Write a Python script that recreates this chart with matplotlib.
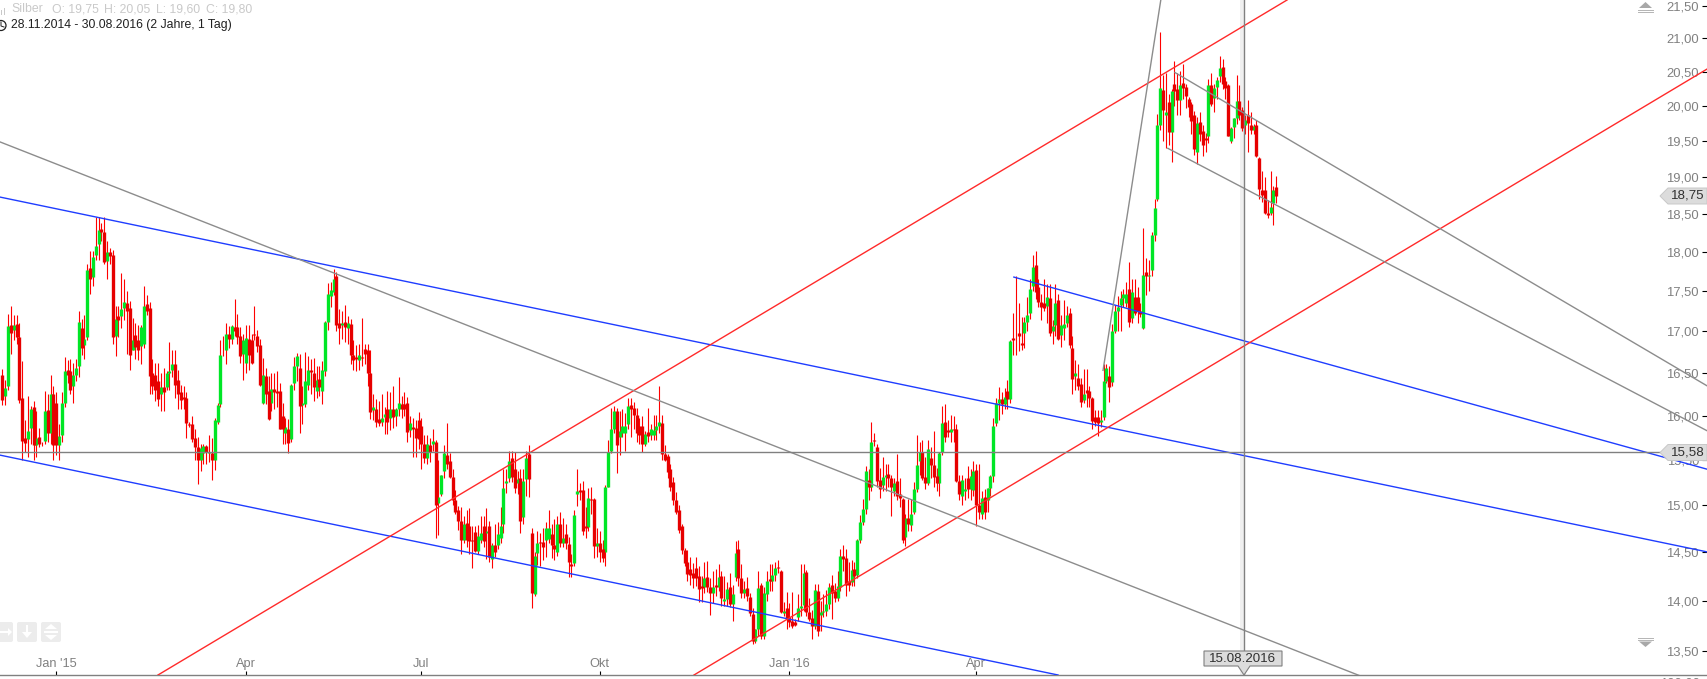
import matplotlib
matplotlib.use("Agg")
import matplotlib.pyplot as plt
from matplotlib.patches import Circle, FancyBboxPatch, Polygon, Rectangle
from matplotlib.ticker import NullLocator

plt.rcParams['font.family'] = ['Liberation Sans', 'DejaVu Sans']

# daily candles, one (open, high, low, close) per trading day
dec_2014 = [
    (16.48,16.55,16.12,16.18),(16.23,16.42,16.12,16.32),(16.35,17.22,16.3,17.07),(17.08,17.31,16.73,16.98),
    (17.02,17.2,16.89,17.08),(17.09,17.2,16.85,16.93),(16.93,17.11,16.15,16.18),(16.2,16.64,15.5,15.71),
    (15.74,15.95,15.58,15.69),(15.73,16.23,15.53,15.82),(15.86,16.11,15.68,16.07),(16.1,16.17,15.49,15.66),
    (15.66,16.05,15.53,15.74),(15.76,15.86,15.64,15.68),(15.67,15.7,15.65,15.68),(15.71,16.29,15.68,16.05),
    (16.06,16.25,15.7,15.8),(15.8,16.47,15.68,16.25),(16.25,16.35,15.49,15.66),
]
q1_2015 = [
    (16.15,16.27,15.55,15.66),(15.66,15.9,15.49,15.77),(15.78,16.27,15.7,16.15),(16.15,16.69,16.1,16.52),
    (16.54,16.65,16.38,16.48),(16.52,16.66,16.25,16.3),(16.34,16.62,16.15,16.48),(16.47,16.66,16.4,16.56),
    (16.58,17.25,16.45,17.12),(17.04,17.15,16.72,16.8),(16.84,17.2,16.66,16.91),(16.93,17.85,16.9,17.77),
    (17.8,18.01,17.46,17.65),(17.68,18.01,17.57,17.94),(17.97,18.46,17.9,18.08),(18.11,18.46,17.9,18.29),
    (18.31,18.38,18.15,18.27),(18.27,18.46,17.85,17.87),(17.89,18.14,17.66,18.0),(18.0,18.05,17.85,17.95),
    (17.97,18.03,16.85,16.93),(16.95,17.31,16.7,17.15),(17.19,17.31,16.93,17.14),(17.19,17.73,17.04,17.28),
    (17.29,17.65,17.14,17.37),(17.35,17.5,16.73,17.25),(17.29,17.38,16.53,16.71),(16.77,17.17,16.77,16.9),
    (16.96,17.1,16.66,16.81),(16.89,17.08,16.65,16.77),(16.82,17.08,16.6,17.06),(16.85,17.57,16.8,17.31),
    (17.34,17.45,17.2,17.25),(17.29,17.36,16.25,16.46),(16.5,16.67,16.25,16.35),(16.48,16.62,16.17,16.3),
    (16.4,16.62,16.11,16.19),(16.25,16.5,16.05,16.33),(16.33,16.56,16.05,16.27),(16.33,16.52,16.3,16.5),
    (16.5,16.87,16.3,16.52),(16.53,16.77,16.45,16.6),(16.6,16.77,16.2,16.36),(16.42,16.54,16.07,16.25),
    (16.27,16.36,16.07,16.18),(16.22,16.34,16.07,16.19),(16.2,16.27,15.74,15.92),(15.9,15.93,15.87,15.89),
    (15.9,15.99,15.7,15.73),(15.74,15.84,15.5,15.64),(15.64,15.76,15.23,15.5),(15.5,15.68,15.37,15.63),
    (15.57,15.68,15.45,15.65),(15.65,15.66,15.45,15.58),(15.57,15.78,15.47,15.59),(15.57,15.74,15.27,15.5),
    (15.5,15.97,15.38,15.95),(15.93,16.15,15.9,16.12),(16.13,16.89,16.1,16.71),(16.78,16.95,16.7,16.77),
    (16.78,17.11,16.6,16.97),(16.97,17.07,16.8,16.91),(16.91,17.08,16.85,17.07),(17.06,17.4,16.95,17.0),
    (17.06,17.22,16.85,16.93),(16.95,17.05,16.62,16.7),(16.73,16.97,16.42,16.89),
]
q2_2015 = [
    (16.62,17.08,16.5,16.92),(16.91,17.08,16.54,16.71),(16.89,16.97,16.6,16.62),(16.97,17.31,16.89,16.96),
    (16.94,17.02,16.75,16.82),(16.83,16.91,16.34,16.36),(16.15,16.68,16.13,16.47),(16.46,16.56,16.13,16.25),
    (16.29,16.46,15.95,15.96),(16.15,16.5,16.05,16.31),(16.31,16.5,16.07,16.27),(16.29,16.52,16.1,16.26),
    (16.28,16.38,15.84,15.85),(16.0,16.15,15.67,15.84),(15.8,15.97,15.67,15.87),(15.85,15.96,15.57,15.69),
    (15.73,16.37,15.7,16.36),(16.38,16.69,16.3,16.58),(16.58,16.74,16.4,16.7),(16.56,16.73,15.8,16.11),
    (16.12,16.34,15.9,16.15),(16.13,16.75,16.1,16.4),(16.36,16.7,16.3,16.53),(16.53,16.66,16.25,16.51),
    (16.5,16.68,16.17,16.33),(16.29,16.58,16.2,16.42),(16.43,16.58,16.23,16.33),(16.29,16.64,16.13,16.53),
    (16.52,17.13,16.46,17.12),(17.12,17.6,17.02,17.47),(17.44,17.62,17.3,17.51),(17.49,17.78,17.45,17.65),
    (17.7,17.75,17.0,17.08),(17.1,17.28,16.85,17.04),(17.08,17.25,16.91,17.1),(17.12,17.33,16.87,17.05),
    (17.04,17.19,16.85,17.1),(17.09,17.15,16.6,16.71),(16.71,16.89,16.54,16.65),(16.69,16.83,16.52,16.66),
    (16.65,16.85,16.54,16.71),(16.69,17.16,16.58,16.68),(16.79,16.85,16.6,16.73),(16.77,16.85,16.34,16.5),
    (16.5,16.77,15.96,16.04),(16.06,16.25,15.95,16.1),(16.07,16.19,15.87,15.93),(15.96,16.17,15.88,15.92),
    (15.93,16.25,15.88,15.97),(15.98,16.1,15.79,16.02),(16.07,16.28,15.79,15.93),(15.97,16.27,15.83,16.08),
    (16.08,16.34,15.86,15.98),(15.99,16.09,15.88,16.08),(16.08,16.45,16.0,16.15),(16.13,16.23,15.97,16.08),
    (16.13,16.27,16.0,16.08),(16.15,16.21,15.7,15.81),(15.83,15.99,15.76,15.91),(15.87,15.97,15.53,15.84),
    (15.86,15.95,15.53,15.74),(15.95,16.04,15.62,15.73),
]
q3_2015 = [
    (15.88,15.97,15.39,15.67),(15.67,15.78,15.46,15.52),(15.52,15.78,15.45,15.67),(15.66,15.74,15.47,15.58),
    (15.67,15.85,15.6,15.71),(15.7,15.72,14.65,15.0),(15.02,15.5,14.68,15.09),(15.12,15.33,15.1,15.33),
    (15.37,15.66,15.3,15.57),(15.55,15.91,15.4,15.45),(15.48,15.57,15.3,15.31),(15.31,15.39,15.0,15.05),
    (15.06,15.16,14.9,14.93),(14.95,14.99,14.73,14.83),(14.83,14.98,14.48,14.63),(14.63,14.88,14.6,14.8),
    (14.81,14.95,14.55,14.63),(14.78,14.97,14.48,14.62),(14.63,14.77,14.33,14.62),(14.71,14.78,14.5,14.51),
    (14.51,14.79,14.48,14.67),(14.63,14.88,14.6,14.7),(14.78,14.88,14.55,14.62),(14.7,14.97,14.43,14.72),
    (14.78,14.83,14.4,14.45),(14.43,14.6,14.33,14.57),(14.57,14.8,14.45,14.5),(14.57,14.82,14.53,14.69),
    (14.65,14.98,14.6,14.78),(14.8,15.39,14.7,15.19),(15.24,15.39,15.13,15.26),(15.3,15.6,15.25,15.48),
    (15.52,15.6,15.25,15.31),(15.39,15.58,15.13,15.19),(15.24,15.37,15.12,15.28),(15.3,15.39,14.7,14.83),
    (14.87,15.39,14.8,15.26),(15.28,15.6,15.1,15.52),(15.56,15.66,15.09,15.28),(14.7,14.75,13.93,14.08),
    (14.07,14.5,14.05,14.46),(14.49,14.72,14.37,14.59),(14.61,14.7,14.35,14.59),(14.61,14.75,14.42,14.55),
    (14.63,14.82,14.45,14.75),(14.64,14.95,14.6,14.75),(14.69,14.8,14.44,14.57),(14.57,14.85,14.42,14.53),
    (14.5,14.88,14.46,14.8),(14.8,14.93,14.55,14.6),(14.6,14.86,14.55,14.65),(14.69,14.8,14.53,14.59),
    (14.58,14.66,14.24,14.4),(14.38,14.48,14.24,14.35),(14.39,14.95,14.36,14.89),(15.12,15.4,14.99,15.15),
    (15.16,15.24,15.05,15.14),(15.16,15.26,14.68,14.72),(14.77,14.98,14.65,14.75),(14.76,15.19,14.72,15.08),
    (15.07,15.2,14.9,15.05),(15.07,15.08,14.44,14.56),(14.56,14.75,14.45,14.6),
]
q4_2015 = [
    (14.6,14.72,14.4,14.5),(14.53,14.63,14.4,14.44),(14.5,15.22,14.36,15.2),(15.2,15.72,15.2,15.58),
    (15.6,16.09,15.57,15.84),(15.85,16.11,15.8,16.05),(16.05,16.09,15.35,15.66),(15.76,16.05,15.55,15.82),
    (15.8,16.07,15.75,15.88),(15.8,16.03,15.6,15.88),(15.9,16.2,15.85,16.11),(16.12,16.2,15.76,16.07),
    (16.09,16.16,15.85,16.01),(16.01,16.09,15.7,15.8),(15.88,15.97,15.68,15.78),(15.88,16.0,15.58,15.67),
    (15.67,15.82,15.65,15.79),(15.81,16.09,15.7,15.77),(15.78,15.9,15.72,15.84),(15.78,16.01,15.72,15.83),
    (15.83,16.01,15.72,15.88),(15.88,16.35,15.8,15.93),(15.92,16.01,15.5,15.56),(15.56,15.66,15.48,15.49),
    (15.54,15.56,15.3,15.36),(15.39,15.45,15.15,15.2),(15.25,15.31,15.0,15.05),(15.06,15.14,14.9,14.93),
    (14.95,15.0,14.7,14.73),(14.77,14.8,14.48,14.52),(14.52,14.54,14.35,14.39),(14.4,14.52,14.2,14.27),
    (14.32,14.45,14.16,14.26),(14.28,14.39,14.13,14.23),(14.33,14.45,14.15,14.23),(14.25,14.35,13.99,14.12),
    (14.15,14.25,13.99,14.13),(14.14,14.4,14.08,14.23),(14.24,14.41,14.09,14.14),(14.14,14.23,13.86,14.08),
    (14.08,14.3,13.98,14.14),(14.16,14.32,14.05,14.14),(14.14,14.38,14.1,14.24),(14.25,14.3,13.95,14.03),
    (14.0,14.25,13.95,14.02),(14.02,14.19,13.95,14.12),(14.14,14.28,13.94,13.97),(13.97,14.16,13.8,14.07),
    (14.24,14.62,14.2,14.49),(14.53,14.63,14.15,14.23),(14.23,14.38,14.03,14.08),(14.08,14.2,14.03,14.12),
    (14.13,14.24,14.0,14.05),(14.04,14.08,13.85,13.88),(13.87,13.93,13.57,13.6),(13.6,13.72,13.58,13.72),
    (13.72,14.3,13.65,14.13),(14.16,14.18,13.62,13.65),(13.65,14.14,13.62,14.08),(14.07,14.3,14.0,14.2),
    (14.22,14.38,14.1,14.2),(14.2,14.38,14.1,14.26),(14.26,14.4,14.2,14.33),(14.34,14.42,14.28,14.33),
    (14.3,14.31,13.88,13.89),(13.88,13.99,13.85,13.9),(13.93,14.09,13.72,13.82),
]
q1_2016 = [
    (13.84,13.98,13.74,13.79),(13.8,14.09,13.73,13.75),(13.79,13.82,13.75,13.76),(13.84,14.07,13.8,13.93),
    (13.93,14.38,13.85,13.95),(13.96,14.38,13.9,14.28),(14.29,14.31,13.85,13.89),(13.89,14.03,13.8,13.82),
    (13.83,13.91,13.62,13.75),(13.75,14.17,13.72,14.11),(14.1,14.17,13.65,13.7),(13.86,14.0,13.7,13.89),
    (13.89,14.07,13.84,13.9),(13.9,14.11,13.85,13.97),(13.97,14.18,13.92,14.14),(14.16,14.26,13.82,14.08),
    (14.1,14.18,13.99,14.03),(14.03,14.3,14.0,14.15),(14.14,14.53,14.1,14.46),(14.46,14.57,14.3,14.43),
    (14.44,14.53,14.05,14.16),(14.2,14.4,14.1,14.16),(14.19,14.42,14.15,14.31),(14.32,14.4,14.15,14.25),
    (14.26,14.64,14.23,14.63),(14.63,14.89,14.6,14.82),(14.82,15.07,14.79,14.96),(14.96,15.43,14.9,15.37),
    (15.27,15.39,15.05,15.2),(15.2,15.93,15.15,15.7),(15.72,15.8,15.65,15.71),(15.64,15.68,15.2,15.26),
    (15.27,15.41,15.08,15.17),(15.22,15.53,15.15,15.31),(15.31,15.45,15.15,15.33),(15.34,15.45,15.2,15.29),
    (15.3,15.33,14.88,15.2),(15.15,15.3,15.1,15.24),(15.26,15.56,15.05,15.1),(15.12,15.3,14.98,15.08),
    (15.07,15.08,14.6,14.63),(14.66,14.9,14.56,14.86),(14.86,15.07,14.72,14.8),(14.79,15.07,14.72,14.9),
    (14.93,15.25,14.9,15.17),(15.17,15.78,15.14,15.44),(15.48,15.7,15.33,15.58),(15.58,15.72,15.27,15.3),
    (15.31,15.53,15.17,15.24),(15.24,15.72,15.22,15.62),(15.52,15.64,15.3,15.44),(15.44,15.82,15.2,15.31),
    (15.32,15.41,15.15,15.24),(15.24,15.58,15.1,15.57),(15.58,16.11,15.55,15.92),(15.93,16.13,15.7,15.76),
    (15.83,15.95,15.75,15.81),(15.81,16.01,15.7,15.84),(15.85,15.99,15.7,15.83),(15.85,15.9,15.25,15.26),
    (15.26,15.33,15.05,15.12),(15.1,15.33,15.0,15.27),(15.15,15.3,15.05,15.18),(15.3,15.43,15.08,15.17),
    (15.17,15.39,15.05,15.32),(15.16,15.48,15.1,15.37),
]
q2_2016 = [
    (15.38,15.45,14.78,15.0),(15.0,15.45,14.85,14.92),(14.9,15.15,14.85,15.08),(15.09,15.17,14.85,14.93),
    (15.05,15.19,14.93,15.19),(15.19,15.33,15.1,15.32),(15.32,15.97,15.25,15.88),(15.92,16.2,15.88,16.15),
    (16.15,16.33,15.95,16.19),(16.19,16.27,16.02,16.13),(16.13,16.32,16.08,16.22),(16.28,16.41,16.08,16.19),
    (16.19,16.9,16.15,16.88),(16.92,17.23,16.72,16.9),(16.94,17.69,16.72,16.95),(16.98,17.35,16.76,16.94),
    (16.86,17.18,16.77,16.83),(16.98,17.18,16.8,17.12),(17.12,17.43,17.0,17.2),(17.23,17.66,17.15,17.53),
    (17.57,17.96,17.5,17.81),(17.84,18.02,17.4,17.49),(17.55,17.66,17.3,17.37),(17.37,17.46,17.14,17.3),
    (17.35,17.66,17.25,17.29),(17.31,17.59,17.1,17.43),(17.41,17.59,16.95,16.98),(17.0,17.14,16.85,17.07),
    (17.08,17.59,16.95,17.35),(17.39,17.46,16.9,16.91),(16.96,17.2,16.81,17.08),(17.04,17.39,16.9,17.09),
    (17.1,17.31,17.05,17.2),(17.23,17.29,16.8,16.83),(16.8,16.94,16.25,16.43),(16.46,16.65,16.3,16.5),
    (16.44,16.6,16.3,16.34),(16.37,16.44,16.1,16.16),(16.18,16.55,16.15,16.25),(16.3,16.55,16.1,16.26),
    (16.29,16.34,16.1,16.2),(16.2,16.22,15.85,15.94),(15.98,16.06,15.88,15.93),(15.98,16.06,15.77,15.92),
    (15.93,16.06,15.87,15.95),(15.98,16.6,15.95,16.4),(16.4,16.6,16.38,16.56),(16.46,16.58,16.16,16.33),
    (16.39,17.09,16.35,17.0),(17.01,17.33,16.98,17.25),(17.25,17.44,17.0,17.3),(17.33,17.5,17.0,17.41),
    (17.42,17.53,17.3,17.47),(17.35,17.62,17.3,17.47),(17.53,17.87,17.05,17.12),(17.16,17.66,17.1,17.49),
    (17.43,17.66,17.2,17.23),(17.43,17.55,17.1,17.25),
]
q3_2016 = [
    (17.25,17.35,17.18,17.21),(17.04,18.32,17.03,17.71),(17.74,17.92,17.45,17.69),(17.7,17.9,17.5,17.71),
    (17.77,18.26,17.7,18.23),(18.22,18.7,18.15,18.58),(18.7,19.88,18.68,19.73),(19.73,21.09,19.66,20.26),
    (20.23,20.45,19.5,19.94),(19.87,20.49,19.4,19.92),(20.06,20.18,19.44,19.63),(19.63,20.25,19.21,20.22),
    (20.32,20.66,20.0,20.22),(20.25,20.49,19.87,20.09),(20.09,20.51,19.87,20.3),(20.33,20.61,20.1,20.26),
    (20.28,20.32,19.97,20.15),(20.1,20.13,19.85,19.99),(20.03,20.06,19.6,19.78),(19.87,19.93,19.3,19.39),
    (19.35,19.85,19.18,19.76),(19.77,19.92,19.5,19.6),(19.64,19.73,19.29,19.45),(19.55,19.62,19.35,19.52),
    (19.57,20.39,19.48,20.3),(20.31,20.49,20.0,20.03),(20.12,20.32,19.92,20.26),(20.28,20.42,20.1,20.38),
    (20.44,20.74,20.35,20.55),(20.57,20.69,20.25,20.32),(20.37,20.42,20.1,20.26),(20.3,20.32,19.58,19.58),
    (19.5,19.7,19.48,19.69),(19.7,19.83,19.55,19.83),(19.83,20.46,19.75,20.08),(20.08,20.3,19.8,19.87),
    (19.94,19.99,19.64,19.69),(19.73,19.87,19.6,19.8),(19.87,20.09,19.35,19.76),(19.73,19.92,19.6,19.66),
    (19.66,19.74,19.6,19.72),(19.73,19.8,19.28,19.29),(19.26,19.28,18.7,18.84),(18.83,19.09,18.66,18.76),
    (18.83,19.0,18.5,18.51),(18.52,18.69,18.45,18.49),(18.52,19.09,18.49,18.59),(18.65,18.88,18.35,18.83),
    (18.87,19.02,18.65,18.74),
]

# drawn trend lines as (candle index, price) at each end
blue_lines = [((-0.85, 602.5), (18.73, 14.50)), ((357.3, 602.5), (17.68, 15.39)), ((-0.85, 372.9), (15.55, 13.27))]
red_lines = [((54.96, 453.8), (13.27, 21.59)), ((244.3, 602.5), (13.27, 20.55))]
grey_lines = [((-0.85, 479.8), (19.49, 13.26)), ((388.8, 409.2), (16.53, 21.59)),
              ((414.2, 602.5), (20.49, 16.34)), ((411.7, 602.5), (19.40, 15.82))]
level_price = 15.58
cursor_day = 438.6

price_ticks = [13.5, 14, 14.5, 15, 15.5, 16, 16.5, 17, 17.5, 18, 18.5, 19, 19.5, 20, 20.5, 21, 21.5]
price_labels = ['13,50', '14,00', '14,50', '15,00', '15,50', '16,00', '16,50', '17,00', '17,50',
                '18,00', '18,50', '19,00', '19,50', '20,00', '20,50', '21,00', '21,50']
date_ticks = [19, 86, 148, 211, 278, 344]
date_labels = ["Jan '15", 'Apr', 'Jul', 'Okt', "Jan '16", 'Apr']

candles = dec_2014 + q1_2015 + q2_2015 + q3_2015 + q4_2015 + q1_2016 + q2_2016 + q3_2016
days = list(range(len(candles)))
opens = [c[0] for c in candles]
highs = [c[1] for c in candles]
lows = [c[2] for c in candles]
closes = [c[3] for c in candles]

RED = '#ff0000'
BODY_RED = '#e60000'
GREEN = '#00e626'
GREY = '#808080'

W, H = 1708, 679
fig = plt.figure(figsize=(W / 100, H / 100), dpi=100)
ax = fig.add_axes([0, 4 / H, 1, 675 / H])
ax.set_yscale('log')
ax.set_xlim(-0.848, 602.5)
ax.set_ylim(13.27, 21.59)

ax.axvspan(cursor_day - 1.4, cursor_day, color='#f0f0f0', lw=0, zorder=0)

# wicks, then bodies
ax.vlines(days, lows, highs, color=RED, lw=0.8, zorder=2)
up = [i for i in days if closes[i] >= opens[i]]
down = [i for i in days if closes[i] < opens[i]]
ax.vlines(up, [opens[i] for i in up], [closes[i] for i in up], color=GREEN, lw=2.4, zorder=3)
ax.vlines(down, [closes[i] for i in down], [opens[i] for i in down], color=BODY_RED, lw=2.4, zorder=3)

for xs, ys in blue_lines:
    ax.plot(xs, ys, color='#1f3dff', lw=1.0, zorder=4)
for xs, ys in red_lines:
    ax.plot(xs, ys, color='#ff2a2a', lw=1.0, zorder=4)
for xs, ys in grey_lines:
    ax.plot(xs, ys, color='#8c8c8c', lw=1.0, zorder=4)
ax.axhline(level_price, color=GREY, lw=1.0, zorder=4)
ax.axvline(cursor_day, color=GREY, lw=1.0, zorder=4)

for side in ['top', 'left', 'right']:
    ax.spines[side].set_visible(False)
ax.spines['bottom'].set_color(GREY)
ax.spines['bottom'].set_linewidth(1.0)

ax.yaxis.tick_right()
ax.set_yticks(price_ticks)
ax.set_yticklabels(price_labels, ha='right')
ax.yaxis.set_minor_locator(NullLocator())
ax.tick_params(axis='y', direction='in', length=4.3, width=0.8, color='black', pad=-6.5,
               labelcolor=GREY, labelsize=9.4)
ax.set_xticks(date_ticks)
ax.set_xticklabels(date_labels, va='bottom')
ax.tick_params(axis='x', direction='in', length=3.2, width=0.8, color='black', pad=-3.4,
               labelcolor=GREY, labelsize=9.2)

# chart chrome in pixel coordinates
ui = fig.add_axes([0, 0, 1, 1], facecolor='none')
ui.set_xlim(0, W)
ui.set_ylim(H, 0)
ui.axis('off')

for x, label in [(11, 'Silber'), (52, 'O: 19,75'), (104, 'H: 20,05'), (156, 'L: 19,60'), (206, 'C: 19,80')]:
    ui.text(x, 9, label, color='#c9c9c9', fontsize=8.85, va='center')
ui.text(11, 25, '28.11.2014 - 30.08.2016 (2 Jahre, 1 Tag)', color='#202020', fontsize=8.85, va='center')
ui.add_patch(Circle((1, 25.5), 5, fc='white', ec='#202020', lw=0.9))
ui.plot([1, 1, 4], [22, 26, 27], color='#202020', lw=0.7)
ui.add_patch(Rectangle((1, 10), 1, 5, color='#c9c9c9', lw=0))
ui.add_patch(Rectangle((4, 8), 1, 7, color='#c9c9c9', lw=0))

# scroll buttons
for x0, x1 in [(-6, 13), (17, 37), (41, 61)]:
    ui.add_patch(FancyBboxPatch((x0 + 2, 624), x1 - x0 - 4, 16, boxstyle='round,pad=2', fc='#ececec', ec='none'))
ui.plot([0, 9], [632, 632], color='white', lw=1.5)
ui.add_patch(Polygon([(8, 628), (12, 632), (8, 636)], fc='white', ec='none'))
ui.plot([27, 27], [626, 634], color='white', lw=1.5)
ui.add_patch(Polygon([(22, 632), (32, 632), (27, 638)], fc='white', ec='none'))
ui.add_patch(Polygon([(45, 629), (57, 629), (51, 624)], fc='white', ec='none'))
ui.plot([45, 57], [632, 632], color='white', lw=1.5)
ui.add_patch(Polygon([(45, 635), (57, 635), (51, 640)], fc='white', ec='none'))

# up and down arrows of the price axis
ui.add_patch(Polygon([(1639, 8), (1652, 8), (1645.5, 2)], fc='#a8a8a8', ec='none'))
ui.plot([1638, 1653], [9.5, 9.5], color='#b4b4b4', lw=0.7)
ui.plot([1638, 1653], [11.5, 11.5], color='#b4b4b4', lw=0.7)
ui.add_patch(Polygon([(1639, 641.5), (1652, 641.5), (1645.5, 647)], fc='#a8a8a8', ec='none'))
ui.plot([1638, 1653], [637.5, 637.5], color='#b4b4b4', lw=0.7)
ui.plot([1638, 1653], [639.5, 639.5], color='#b4b4b4', lw=0.7)

# price flags
for yc, label in [(196, '18,75'), (452.5, '15,58')]:
    ui.add_patch(Polygon([(1660, yc), (1668, yc - 8), (1707, yc - 8), (1707, yc + 8), (1668, yc + 8)],
                         fc='#dcdcdc', ec='#c8c8c8', lw=0.7, zorder=5))
    ui.text(1687.5, yc, label, color='#303030', fontsize=9.6, ha='center', va='center', zorder=6)

# date flag on the cursor
ui.add_patch(Polygon([(1204, 651), (1282, 651), (1282, 666), (1250, 666), (1244, 675), (1238, 666), (1204, 666)],
                     fc='#dcdcdc', ec=GREY, lw=0.8, zorder=5))
ui.text(1243, 658.5, '15.08.2016', color='#303030', fontsize=9.6, ha='center', va='center', zorder=6)

ui.text(1700, 683, '100,00', color=GREY, fontsize=9.4, ha='right', va='center')

fig.savefig('out.png', dpi=100)
